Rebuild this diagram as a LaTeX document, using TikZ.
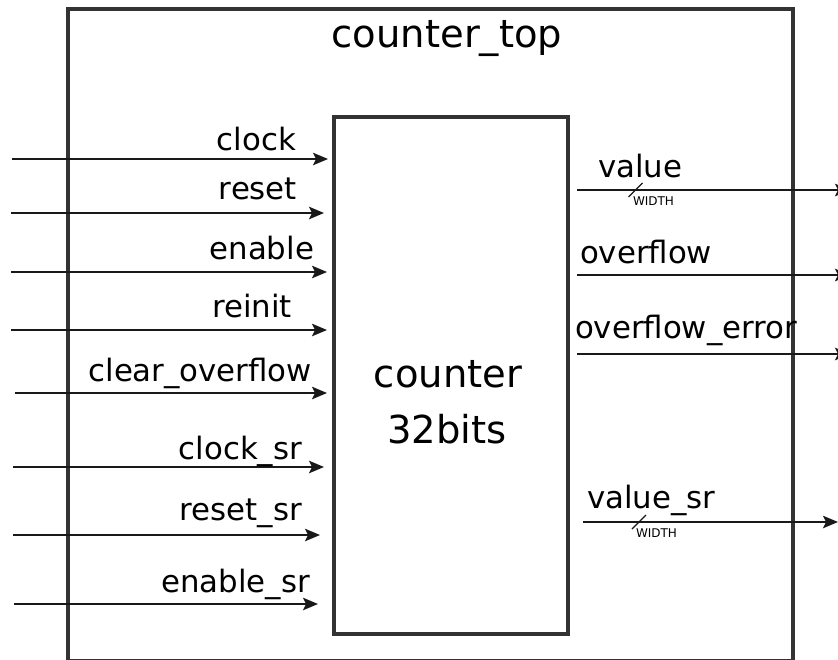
\documentclass[tikz,border=0pt]{standalone}
\usepackage{fontspec}
\setmainfont{DejaVu Sans}
\usetikzlibrary{arrows.meta,positioning,calc}

\begin{document}
\begin{tikzpicture}[x=1pt,y=-1pt,every node/.style={inner sep=0pt,outer sep=0pt},
		block/.style={draw=black!80,line width=3.5pt},
		sig/.style={draw=black!90,line width=1.6pt,-{Stealth[length=15pt,width=12.5pt,inset=3pt]}},
		sigtxt/.style={font=\fontsize{30.8}{35}\selectfont},
		bigtxt/.style={font=\fontsize{38.5}{44}\selectfont},
		bustxt/.style={font=\fontsize{12}{14}\selectfont,anchor=base west},
		busmark/.style={draw=black!90,line width=1.2pt}
		]
		\useasboundingbox (0,0) rectangle (838,659);

		% outer block
		\coordinate(top-nw) at (68,9);
		\coordinate(top-se) at (793,661);
		\draw[block] (top-nw) rectangle (top-se);
		\node[bigtxt,anchor=base] (top-name) at (447,47) {counter\_top};

		% inner block
		\node[block,minimum width=234pt,minimum height=517pt] (cnt) at (451,375.5) {};
		\node[bigtxt,anchor=base] (cnt-name) at (448,387) {counter};
		\node[bigtxt,anchor=base] (cnt-bits) at (447,443) {32bits};

		% inputs
		\foreach \txt/\ly/\sx/\ex/\lx/\by [count=\i] in {clock/159/12/328/296/150,
				reset/213/11/324/297/199, enable/272/11/327/314/259,
				reinit/330/11/327/292/317, clear\_overflow/393/15/327/312/381,
				clock\_sr/467/13/324/302/459, reset\_sr/535/13/320/302/520,
				enable\_sr/604/14/318/310/592}{
			\coordinate(in\i-s) at (\sx,\ly);
			\coordinate(in\i-e) at (\ex,\ly);
			\draw[sig] (in\i-s) -- (in\i-e);
			\node[sigtxt,anchor=base east] (in\i-lbl) at (\lx,\by) {\txt};
		}

		% outputs
		\foreach \txt/\ly/\sx/\ex/\lx/\by [count=\i] in {value/190/577/850/598/177,
				overflow/275/577/850/580/263, overflow\_error/354/577/850/575/338,
				value\_sr/522/583/838/587/508}{
			\coordinate(out\i-s) at (\sx,\ly);
			\coordinate(out\i-e) at (\ex,\ly);
			\draw[sig] (out\i-s) -- (out\i-e);
			\node[sigtxt,anchor=base west] (out\i-lbl) at (\lx,\by) {\txt};
		}

		% bus width marks
		\coordinate(bus1) at (635.5,190);
		\coordinate(bus2) at (639,522);
		\draw[busmark] ($(bus1)+(-7,7)$) -- ($(bus1)+(7,-7)$);
		\draw[busmark] ($(bus2)+(-7,7)$) -- ($(bus2)+(7,-7)$);
		\node[bustxt] (bus1-w) at (633,205) {WIDTH};
		\node[bustxt] (bus2-w) at (636,537) {WIDTH};
	\end{tikzpicture}
\end{document}
